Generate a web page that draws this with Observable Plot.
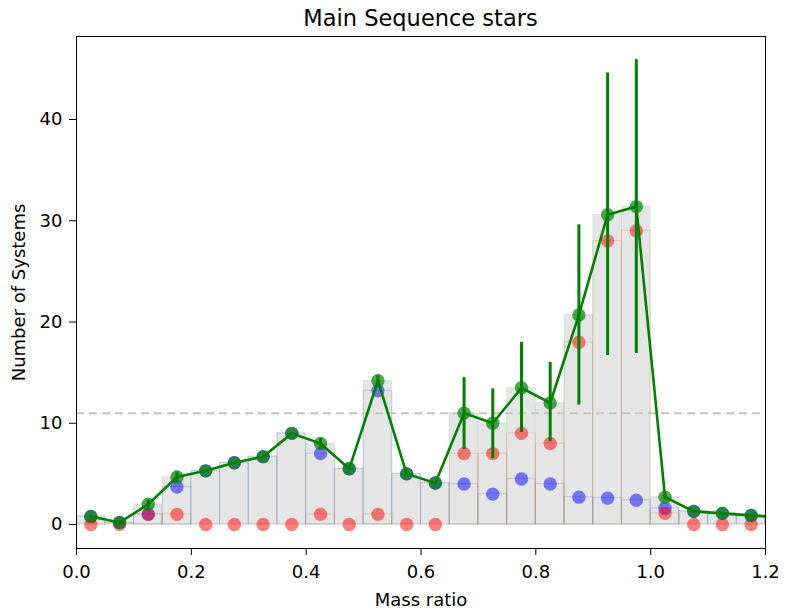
<!DOCTYPE html>
<html>
<head>
<meta charset="utf-8">
<script src="https://cdn.jsdelivr.net/npm/d3@7"></script>
<script src="https://cdn.jsdelivr.net/npm/@observablehq/plot@0.6"></script>
<style>
  body { margin: 0; background: #fff; font-family: "DejaVu Sans", sans-serif; }
  #title { height: 30px; width: 785px; box-sizing: border-box; padding-left: 76px; padding-right: 20px;
           text-align: center; font-size: 22.5px; line-height: 36px; color: #000; white-space: nowrap; }
  #chart svg { display: block; }
</style>
</head>
<body>
<div id="title">Main Sequence stars</div>
<div id="chart"></div>
<script>
// Bin centres (mass ratio), bin width 0.05
const centers = [0.025,0.075,0.125,0.175,0.225,0.275,0.325,0.375,0.425,0.475,0.525,0.575,0.625,0.675,0.725,0.775,0.825,0.875,0.925,0.975,1.025,1.075,1.125,1.175,1.225];
// Total (green), blue and red counts
const total = [0.8,0.2,2.0,4.7,5.3,6.1,6.7,9.0,8.0,5.5,14.2,5.0,4.1,11.0,10.0,13.5,12.0,20.7,30.6,31.4,2.7,1.3,1.1,0.9,0.7];
const blue  = [0.8,0.2,1.0,3.7,5.3,6.1,6.7,9.0,7.0,5.5,13.2,5.0,4.1,4.0,3.0,4.5,4.0,2.7,2.6,2.4,1.6,1.3,1.1,0.9,0.7];
const red   = [0,0,1,1,0,0,0,0,1,0,1,0,0,7,7,9,8,18,28,29,1.1,0,0,0,0];
// Error bars on total
const errLo = [0.8,0.2,1.6,4.2,5.3,6.1,6.7,9.0,7.5,5.5,13.7,5.0,4.1,7.4,6.5,9.1,8.2,11.8,16.7,16.9,2.4,1.3,1.1,0.9,0.7];
const errHi = [0.8,0.2,2.4,5.2,5.3,6.1,6.7,9.0,8.5,5.5,14.7,5.0,4.1,14.5,13.4,18.0,16.0,29.6,44.6,45.9,3.0,1.3,1.1,0.9,0.7];
const threshold = 11;
const xTicks = [0.0,0.2,0.4,0.6,0.8,1.0,1.2];
const yTicks = [0,10,20,30,40];

const data = centers.map((c,i) => ({c, x1: c-0.025, x2: c+0.025, total: total[i], blue: blue[i], red: red[i], lo: errLo[i], hi: errHi[i]}));

const chart = Plot.plot({
  width: 785,
  height: 583,
  marginTop: 6,
  marginLeft: 76,
  marginRight: 20,
  marginBottom: 65,
  style: {fontFamily: "DejaVu Sans, sans-serif", fontSize: "18px", color: "#000", background: "#fff", overflow: "visible"},
  x: {domain: [0, 1.2]},
  y: {domain: [-2.37, 48.2]},
  marks: [
    Plot.rect(data, {x1: "x1", x2: "x2", y1: 0, y2: "total", fill: "#e5e5e5", stroke: "green", strokeOpacity: 0.08, clip: true}),
    Plot.rect(data, {x1: "x1", x2: "x2", y1: 0, y2: "blue", fill: "none", stroke: "#4670b4", strokeOpacity: 0.25, clip: true}),
    Plot.rect(data, {x1: "x1", x2: "x2", y1: 0, y2: "red", fill: "none", stroke: "#c8783c", strokeOpacity: 0.25, clip: true}),
    Plot.ruleY([threshold], {stroke: "#c4c4c4", strokeWidth: 2, strokeDasharray: "8,5"}),
    Plot.dot(data, {x: "c", y: "blue", r: 6.7, fill: "blue", fillOpacity: 0.5, clip: true}),
    Plot.dot(data, {x: "c", y: "red", r: 6.7, fill: "red", fillOpacity: 0.5, clip: true}),
    Plot.dot(data, {x: "c", y: "total", r: 6.7, fill: "green", fillOpacity: 0.7, clip: true}),
    Plot.line(data, {x: "c", y: "total", stroke: "green", strokeWidth: 2.6, clip: true}),
    Plot.ruleX(data, {x: "c", y1: "lo", y2: "hi", stroke: "green", strokeWidth: 3, clip: true}),
    Plot.frame({stroke: "#000", strokeWidth: 1}),
    Plot.axisX(xTicks, {tickFormat: d3.format(".1f"), tickSize: 7, tickPadding: 10, fontSize: 18,
      label: "Mass ratio", labelAnchor: "center", labelArrow: "none", labelOffset: 57}),
    Plot.axisY(yTicks, {tickSize: 7, tickPadding: 7, fontSize: 18,
      label: "Number of Systems", labelAnchor: "center", labelArrow: "none", labelOffset: 64})
  ]
});
document.getElementById("chart").appendChild(chart);
</script>
</body>
</html>
